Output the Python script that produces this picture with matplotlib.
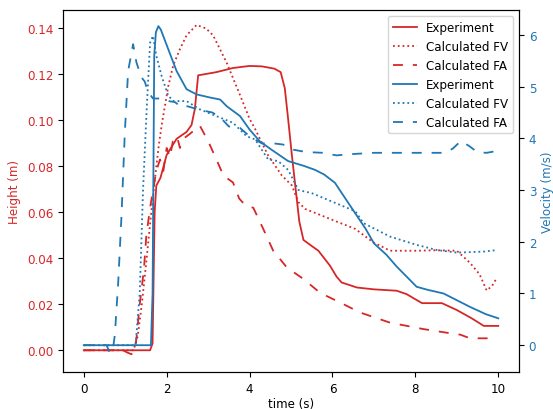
import matplotlib
matplotlib.use("Agg")
import matplotlib.pyplot as plt

# ---- data ----
t_h_exp = [0, 1.6, 1.66, 1.71, 1.75, 1.85, 2.0, 2.24, 2.48, 2.6, 2.68, 2.76, 3.2, 3.6, 4.0, 4.3, 4.6, 4.75, 4.85, 4.93,
           5.02, 5.1, 5.2, 5.3, 5.45, 5.66, 5.94, 6.1, 6.22, 6.59, 7.0, 7.55, 7.79, 8.16, 8.64, 9.0, 9.35, 9.65, 10.0]
h_exp = [0, 0, 0.003, 0.06, 0.0716, 0.075, 0.085, 0.092, 0.095, 0.098, 0.105, 0.1196, 0.121, 0.1228, 0.1237, 0.1235,
         0.1225, 0.121, 0.114, 0.1007, 0.085, 0.072, 0.056, 0.048, 0.046, 0.0433, 0.0368, 0.032, 0.0295, 0.0273,
         0.0265, 0.0259, 0.0244, 0.0205, 0.0205, 0.0175, 0.014, 0.0106, 0.0106]

t_h_fv = [0, 1.2, 1.3, 1.4, 1.5, 1.6, 1.7, 1.8, 1.88, 1.96, 2.04, 2.16, 2.32, 2.48, 2.72, 2.95, 3.12, 3.45, 3.77,
          4.0, 4.13, 4.45, 4.78, 5.02, 5.18, 5.34, 5.74, 6.14, 6.55, 6.98, 7.39, 8.0, 8.5, 9.0, 9.32, 9.55, 9.72,
          9.85, 9.95]
h_fv = [0, 0, 0.006, 0.02, 0.037, 0.055, 0.072, 0.0877, 0.098, 0.1065, 0.115, 0.124, 0.131, 0.137, 0.1415, 0.140,
        0.137, 0.125, 0.111, 0.1007, 0.0964, 0.0847, 0.076, 0.0717, 0.0644, 0.0615, 0.0586, 0.0557, 0.0528, 0.047,
        0.0433, 0.0433, 0.0435, 0.0433, 0.038, 0.033, 0.026, 0.028, 0.031]

t_h_fa = [0, 0.95, 1.05, 1.15, 1.22, 1.27, 1.35, 1.45, 1.51, 1.6, 1.75, 1.84, 1.92, 2.0, 2.08, 2.15, 2.25, 2.32,
          2.4, 2.55, 2.8, 3.0, 3.2, 3.37, 3.6, 3.75, 3.9, 4.09, 4.33, 4.57, 4.9, 5.3, 5.7, 6.18, 6.67, 7.39, 8.2,
          8.84, 9.08, 9.32, 9.65, 9.95]
h_fa = [0, 0, -0.001, -0.0017, -0.0005, 0.005, 0.02, 0.035, 0.05, 0.062, 0.078, 0.083, 0.078, 0.088, 0.084, 0.091,
        0.093, 0.088, 0.092, 0.094, 0.0977, 0.091, 0.083, 0.076, 0.073, 0.066, 0.063, 0.062, 0.0528, 0.0433, 0.036,
        0.031, 0.025, 0.0208, 0.0164, 0.012, 0.0092, 0.0074, 0.0068, 0.0052, 0.0052, 0.0052]

t_v_exp = [0, 1.62, 1.66, 1.7, 1.74, 1.8, 1.86, 2.04, 2.24, 2.48, 2.72, 3.04, 3.29, 3.45, 3.77, 4.0, 4.25, 4.53,
           4.93, 5.3, 5.58, 5.8, 6.06, 6.3, 6.55, 6.8, 7.0, 7.3, 7.55, 8.03, 8.3, 8.68, 9.0, 9.32, 9.7, 10.0]
v_exp = [0, 0, 1.0, 5.6, 6.05, 6.17, 6.1, 5.72, 5.3, 4.95, 4.85, 4.79, 4.75, 4.62, 4.43, 4.17, 3.94, 3.78, 3.56,
         3.47, 3.39, 3.3, 3.14, 2.85, 2.55, 2.25, 1.97, 1.75, 1.52, 1.13, 1.07, 1.0, 0.87, 0.74, 0.6, 0.52]

t_v_fv = [0, 1.25, 1.35, 1.43, 1.52, 1.6, 1.67, 1.75, 1.88, 2.04, 2.17, 2.48, 2.8, 3.2, 3.6, 3.93, 4.13, 4.45,
          4.69, 4.93, 5.18, 5.5, 5.98, 6.55, 6.75, 7.39, 8.03, 8.52, 9.0, 9.65, 9.97]
v_fv = [0, 0, 1.0, 3.0, 4.6, 5.85, 5.98, 5.6, 5.2, 4.82, 4.72, 4.72, 4.56, 4.43, 4.3, 4.04, 3.98, 3.59, 3.56, 3.39,
        3.0, 2.94, 2.78, 2.59, 2.36, 2.1, 1.94, 1.84, 1.79, 1.81, 1.84]

t_v_fa = [0, 0.55, 0.63, 0.7, 0.75, 0.83, 0.91, 0.99, 1.07, 1.19, 1.27, 1.39, 1.47, 1.55, 1.67, 1.9, 2.05, 2.2,
          2.36, 2.5, 2.8, 3.1, 3.3, 3.5, 3.77, 4.0, 4.3, 4.5, 4.81, 5.06, 5.26, 5.5, 5.77, 6.1, 6.35, 7.0, 8.0,
          8.7, 8.9, 9.1, 9.3, 9.5, 9.72, 10.0]
v_fa = [0, 0, -0.15, -0.1, 0.2, 1.2, 2.5, 4.1, 5.3, 5.82, 5.47, 5.18, 5.1, 4.9, 4.77, 4.77, 4.72, 4.7, 4.6, 4.62,
        4.55, 4.5, 4.4, 4.23, 4.2, 4.04, 3.9, 3.91, 3.88, 3.78, 3.75, 3.73, 3.72, 3.67, 3.69, 3.72, 3.72, 3.72, 3.8,
        3.95, 3.85, 3.73, 3.72, 3.76]

labels = ["Experiment", "Calculated FV", "Calculated FA"]
x_ticks = [0, 2, 4, 6, 8, 10]

RED = "#d62728"
BLUE = "#1f77b4"
FS = 8.6
LW = 1.3

plt.rcParams["font.family"] = ["DejaVu Sans"]
fig = plt.figure(figsize=(5.53, 4.10), dpi=100)
ax = fig.add_axes([0.114, 0.090, 0.8245, 0.883])
ax2 = ax.twinx()

l1, = ax.plot(t_h_exp, h_exp, color=RED, lw=LW, label=labels[0])
l2, = ax.plot(t_h_fv, h_fv, color=RED, lw=LW, linestyle=":", label=labels[1])
l3, = ax.plot(t_h_fa, h_fa, color=RED, lw=LW, linestyle="--", dashes=(5.5, 5.5), label=labels[2])
l4, = ax2.plot(t_v_exp, v_exp, color=BLUE, lw=LW, label=labels[0])
l5, = ax2.plot(t_v_fv, v_fv, color=BLUE, lw=LW, linestyle=":", label=labels[1])
l6, = ax2.plot(t_v_fa, v_fa, color=BLUE, lw=LW, linestyle="--", dashes=(5.5, 5.5), label=labels[2])

ax.set_xlim(-0.5, 10.5)
ax.set_ylim(-0.0095, 0.148)
ax2.set_ylim(-0.52, 6.48)
ax.set_xticks(x_ticks)
ax.set_yticks([0.00, 0.02, 0.04, 0.06, 0.08, 0.10, 0.12, 0.14])
ax.set_yticklabels(["0.00", "0.02", "0.04", "0.06", "0.08", "0.10", "0.12", "0.14"])
ax2.set_yticks([0, 1, 2, 3, 4, 5, 6])

ax.tick_params(axis="x", labelsize=FS)
ax.tick_params(axis="y", labelsize=FS, labelcolor=RED)
ax2.tick_params(axis="y", labelsize=FS, labelcolor=BLUE)

ax.set_xlabel("time (s)", fontsize=FS, labelpad=1.5)
ax.set_ylabel("Height (m)", fontsize=FS, color=RED)
ax2.set_ylabel("Velocity (m/s)", fontsize=FS, color=BLUE, labelpad=3)

ax2.legend(handles=[l1, l2, l3, l4, l5, l6], loc="upper right", fontsize=FS)

fig.savefig("out.png", dpi=100)
